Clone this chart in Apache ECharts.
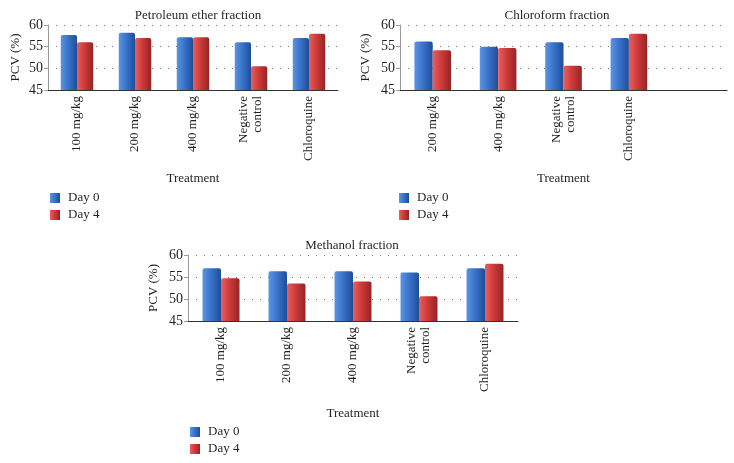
<!DOCTYPE html>
<html>
<head>
<meta charset="utf-8">
<script src="https://cdn.jsdelivr.net/npm/echarts@6/dist/echarts.min.js"></script>
<style>
  html, body { margin: 0; padding: 0; background: #fff; }
  #main { width: 734px; height: 463px; }
</style>
</head>
<body>
<div id="main"></div>
<script>
// categories
var petCats = ['100 mg/kg', '200 mg/kg', '400 mg/kg', 'Negative\ncontrol', 'Chloroquine'];
var chlCats = ['200 mg/kg', '400 mg/kg', 'Negative\ncontrol', 'Chloroquine', ''];
var metCats = ['100 mg/kg', '200 mg/kg', '400 mg/kg', 'Negative\ncontrol', 'Chloroquine'];

// PCV (%) values
var petDay0 = [57.7, 58.2, 57.2, 56.0, 57.0];
var petDay4 = [56.0, 57.0, 57.2, 50.5, 58.0];
var chlDay0 = [56.2, 55.0, 56.0, 57.0, '-'];
var chlDay4 = [54.2, 54.7, 50.6, 58.0, '-'];
var metDay0 = [57.0, 56.3, 56.3, 56.0, 57.0];
var metDay4 = [54.7, 53.5, 54.0, 50.6, 58.0];

var yTicks = [45, 50, 55, 60];

var FONT = '"Liberation Serif", "DejaVu Serif", serif';
var TXT = '#231f20';

var blueFill = new echarts.graphic.LinearGradient(0, 0, 1, 0, [
  {offset: 0, color: '#5a95e0'},
  {offset: 0.45, color: '#3a74cc'},
  {offset: 1, color: '#1f4d98'}
]);
var redFill = new echarts.graphic.LinearGradient(0, 0, 1, 0, [
  {offset: 0, color: '#e86060'},
  {offset: 0.45, color: '#cf3a3a'},
  {offset: 1, color: '#952424'}
]);

var grids = [
  {left: 48, top: 25, width: 290, height: 65},
  {left: 400, top: 25, width: 327, height: 65},
  {left: 188, top: 255, width: 330, height: 66}
];

function xAx(i, cats, gap) {
  return {
    type: 'category', gridIndex: i, data: cats,
    name: 'Treatment', nameLocation: 'middle', nameGap: gap,
    nameTextStyle: {fontFamily: FONT, fontSize: 13, color: TXT},
    axisLine: {lineStyle: {color: '#333', width: 1}},
    axisTick: {show: false},
    axisLabel: {rotate: 90, interval: 0, margin: 6, fontFamily: FONT, fontSize: 13, color: TXT, lineHeight: 14}
  };
}
function yAx(i, gap) {
  return {
    type: 'value', gridIndex: i, min: yTicks[0], max: yTicks[yTicks.length - 1], interval: 5,
    name: 'PCV (%)', nameLocation: 'middle', nameGap: gap, nameRotate: 90,
    nameTextStyle: {fontFamily: FONT, fontSize: 13, color: TXT},
    axisLine: {show: true, lineStyle: {color: '#999'}},
    axisTick: {show: true, length: 4, lineStyle: {color: '#999'}},
    axisLabel: {margin: 5, fontFamily: FONT, fontSize: 14, color: TXT},
    splitLine: {show: true, lineStyle: {color: '#777', type: [1, 7], width: 1}}
  };
}
function bar(name, i, data, fill) {
  return {
    name: name, type: 'bar', xAxisIndex: i, yAxisIndex: i, data: data,
    barGap: 0, barCategoryGap: '44%',
    itemStyle: {color: fill, borderRadius: [2, 2, 0, 0]}
  };
}
function leg(left, top) {
  return {
    data: ['Day 0', 'Day 4'], orient: 'vertical', left: left, top: top,
    width: 80, height: 40,
    icon: 'rect', itemWidth: 10, itemHeight: 10, itemGap: 3,
    padding: 0, selectedMode: false,
    textStyle: {fontFamily: FONT, fontSize: 13, color: TXT, lineHeight: 14, padding: [0, 0, 0, 3]}
  };
}

var chart = echarts.init(document.getElementById('main'));
chart.setOption({
  animation: false,
  color: ['#3a74cc', '#cf3a3a'],
  title: [
    {text: 'Petroleum ether fraction', left: 193, top: 4, textAlign: 'center',
      textStyle: {fontFamily: FONT, fontSize: 13, fontWeight: 'normal', color: TXT}},
    {text: 'Chloroform fraction', left: 552, top: 4, textAlign: 'center',
      textStyle: {fontFamily: FONT, fontSize: 13, fontWeight: 'normal', color: TXT}},
    {text: 'Methanol fraction', left: 347, top: 234, textAlign: 'center',
      textStyle: {fontFamily: FONT, fontSize: 13, fontWeight: 'normal', color: TXT}}
  ],
  legend: [leg(50, 191), leg(399, 191), leg(190, 425)],
  grid: grids,
  xAxis: [xAx(0, petCats, 82), xAx(1, chlCats, 82), xAx(2, metCats, 86)],
  yAxis: [yAx(0, 26), yAx(1, 28), yAx(2, 28)],
  series: [
    bar('Day 0', 0, petDay0, blueFill), bar('Day 4', 0, petDay4, redFill),
    bar('Day 0', 1, chlDay0, blueFill), bar('Day 4', 1, chlDay4, redFill),
    bar('Day 0', 2, metDay0, blueFill), bar('Day 4', 2, metDay4, redFill)
  ]
});
</script>
</body>
</html>
